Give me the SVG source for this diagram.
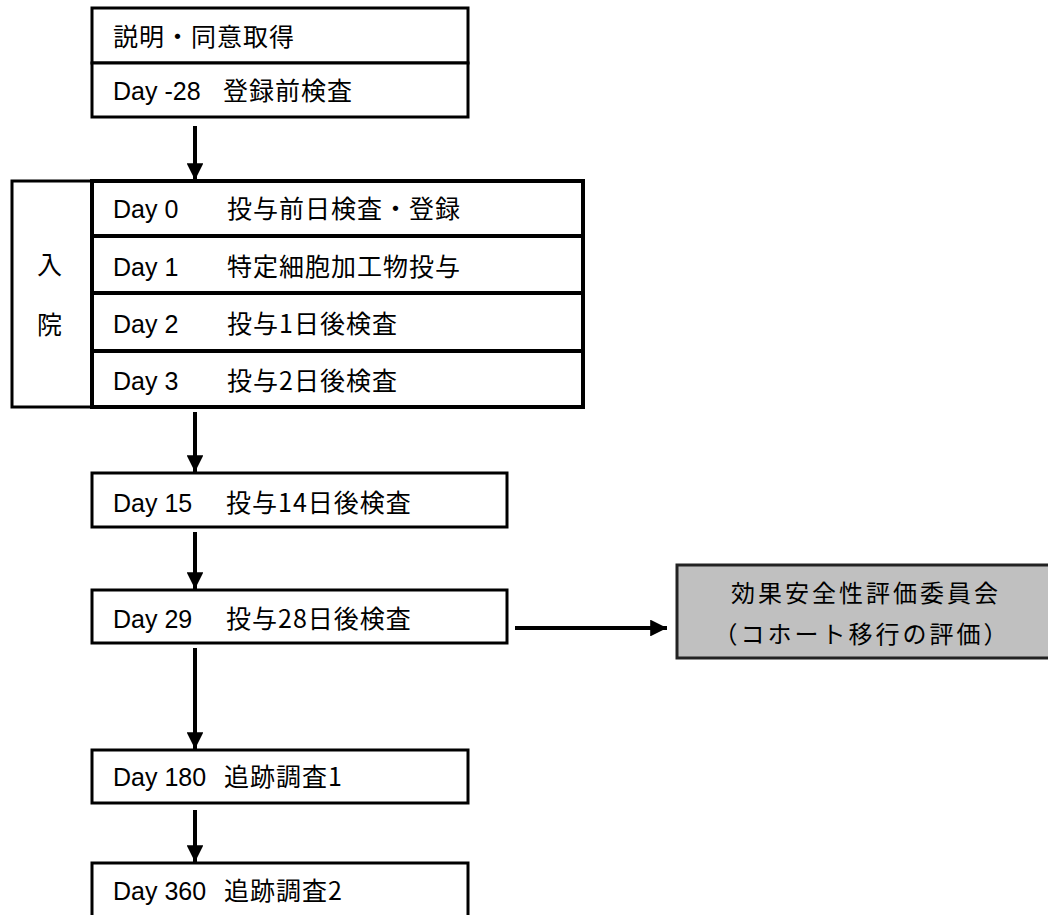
<svg xmlns="http://www.w3.org/2000/svg" width="1048" height="915" viewBox="0 0 1048 915">
<style>
.box{fill:#fff;stroke:#000;stroke-width:3}
.row{fill:#fff;stroke:#000;stroke-width:4}
.gray{fill:#c0c0c0;stroke:#222;stroke-width:3}
.t{font-family:"Liberation Sans","Noto Sans CJK JP",sans-serif;font-size:25px;fill:#000}
.j{font-family:"Noto Sans CJK JP","Liberation Sans",sans-serif;font-size:25px;fill:#000;letter-spacing:1px}
.c{font-family:"Noto Sans CJK JP","Liberation Sans",sans-serif;font-size:24px;fill:#000;text-anchor:middle;letter-spacing:3px}
.conn{stroke:#000;stroke-width:4;fill:none}
</style>
<defs>
<marker id="ah" viewBox="0 0 10 10" refX="10" refY="5" markerWidth="4.2" markerHeight="4.2" markerUnits="strokeWidth" orient="auto">
<path d="M0,0 L10,5 L0,10 Z" fill="#000"/>
</marker>
</defs>
<rect width="1048" height="915" fill="#fff"/>
<g id="consent">
<rect class="box" x="92" y="8" width="376" height="55"/>
<text class="j" x="113" y="46">説明・同意取得</text>
</g>
<g id="day-28">
<rect class="box" x="92" y="63" width="376" height="54"/>
<text class="t" x="113" y="100">Day -28</text>
<text class="j" x="223" y="100">登録前検査</text>
</g>
<g id="hospital">
<rect class="box" x="12" y="181" width="80" height="226"/>
<text class="j" x="50" y="274" text-anchor="middle">入</text>
<text class="j" x="50" y="334" text-anchor="middle">院</text>
</g>
<g id="day0">
<rect class="row" x="92" y="181" width="491" height="55"/>
<text class="t" x="113" y="218">Day 0</text>
<text class="j" x="227" y="218">投与前日検査・登録</text>
</g>
<g id="day1">
<rect class="row" x="92" y="236" width="491" height="57"/>
<text class="t" x="113" y="276">Day 1</text>
<text class="j" x="227" y="276">特定細胞加工物投与</text>
</g>
<g id="day2">
<rect class="row" x="92" y="293" width="491" height="58"/>
<text class="t" x="113" y="333">Day 2</text>
<text class="j" x="227" y="333">投与1日後検査</text>
</g>
<g id="day3">
<rect class="row" x="92" y="351" width="491" height="56"/>
<text class="t" x="113" y="390">Day 3</text>
<text class="j" x="227" y="390">投与2日後検査</text>
</g>
<g id="day15">
<rect class="box" x="92" y="473" width="415" height="54"/>
<text class="t" x="113" y="512">Day 15</text>
<text class="j" x="226" y="512">投与14日後検査</text>
</g>
<g id="day29">
<rect class="box" x="92" y="590" width="415" height="53"/>
<text class="t" x="113" y="628">Day 29</text>
<text class="j" x="226" y="628">投与28日後検査</text>
</g>
<g id="committee">
<rect class="gray" x="677" y="565" width="380" height="93"/>
<text class="c" x="866" y="602">効果安全性評価委員会</text>
<text class="c" x="862" y="643">（コホート移行の評価）</text>
</g>
<g id="day180">
<rect class="box" x="92" y="750" width="376" height="53"/>
<text class="t" x="113" y="786">Day 180</text>
<text class="j" x="224" y="786">追跡調査1</text>
</g>
<g id="day360">
<rect class="box" x="92" y="863" width="376" height="60"/>
<text class="t" x="113" y="900">Day 360</text>
<text class="j" x="224" y="900">追跡調査2</text>
</g>
<g id="connectors">
<line class="conn" x1="195" y1="126" x2="195" y2="180" marker-end="url(#ah)"/>
<line class="conn" x1="195" y1="412" x2="195" y2="472" marker-end="url(#ah)"/>
<line class="conn" x1="195" y1="532" x2="195" y2="589" marker-end="url(#ah)"/>
<line class="conn" x1="195" y1="648" x2="195" y2="749" marker-end="url(#ah)"/>
<line class="conn" x1="195" y1="810" x2="195" y2="862" marker-end="url(#ah)"/>
<line class="conn" x1="515" y1="628" x2="667" y2="628" marker-end="url(#ah)"/>
</g>
</svg>
